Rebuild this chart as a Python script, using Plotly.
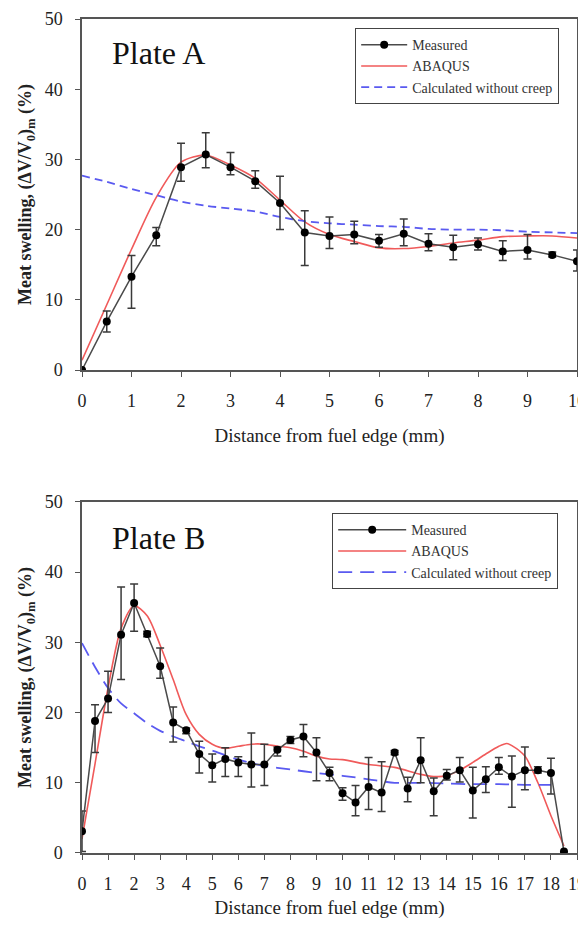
import plotly.graph_objects as go

# ---------------- Plate A data ----------------
xa_meas = [0, 0.5, 1, 1.5, 2, 2.5, 3, 3.5, 4, 4.5, 5, 5.5, 6, 6.5, 7, 7.5, 8, 8.5, 9, 9.5, 10]
ya_meas = [0, 6.9, 13.3, 19.2, 28.9, 30.7, 28.9, 26.9, 23.8, 19.6, 19.1, 19.3, 18.4, 19.4, 18.0, 17.5, 17.9, 16.9, 17.1, 16.4, 15.5]
ya_hi = [0, 8.4, 16.3, 20.3, 32.3, 33.8, 31.0, 28.4, 27.6, 22.7, 21.8, 21.2, 19.3, 21.5, 19.4, 19.2, 18.8, 18.4, 19.3, 16.8, 17.1]
ya_lo = [0, 5.4, 8.8, 17.7, 26.9, 28.8, 27.8, 25.9, 20.0, 14.9, 17.3, 18.0, 17.5, 17.7, 17.0, 15.7, 17.1, 15.6, 15.8, 16.1, 14.1]

xa_abq = [0, 0.5, 1, 1.5, 2, 2.5, 3, 3.5, 4, 4.5, 5, 5.5, 6, 6.5, 7, 7.5, 8, 8.5, 9, 9.5, 10]
ya_abq = [1.4, 9.3, 17.2, 24.6, 29.6, 30.6, 29.2, 27.3, 24.2, 21.1, 19.3, 18.3, 17.4, 17.3, 17.6, 18.1, 18.5, 19.0, 19.1, 19.1, 18.8]

xa_nc = [0, 0.5, 1, 1.5, 2, 2.5, 3, 3.5, 4, 4.5, 5, 5.5, 6, 6.5, 7, 7.5, 8, 8.5, 9, 9.5, 10]
ya_nc = [27.7, 26.8, 25.8, 24.9, 24.0, 23.4, 23.0, 22.6, 21.8, 21.2, 20.9, 20.7, 20.5, 20.4, 20.1, 20.0, 20.0, 19.9, 19.7, 19.6, 19.5]

# ---------------- Plate B data ----------------
xb_meas = [0, 0.5, 1, 1.5, 2, 2.5, 3, 3.5, 4, 4.5, 5, 5.5, 6, 6.5, 7, 7.5, 8, 8.5, 9, 9.5,
           10, 10.5, 11, 11.5, 12, 12.5, 13, 13.5, 14, 14.5, 15, 15.5, 16, 16.5, 17, 17.5, 18, 18.5]
yb_meas = [3.1, 18.8, 22.0, 31.1, 35.6, 31.2, 26.6, 18.6, 17.5, 14.1, 12.5, 13.4, 12.9, 12.6, 12.6, 14.7, 16.1, 16.6, 14.3, 11.4,
           8.5, 7.2, 9.4, 8.6, 14.3, 9.2, 13.2, 8.8, 11.0, 11.8, 8.9, 10.5, 12.2, 10.9, 11.8, 11.8, 11.4, 0.2]
yb_hi = [6.0, 21.1, 25.9, 37.9, 38.3, 31.6, 29.2, 20.8, 17.8, 15.9, 14.1, 15.0, 13.7, 17.1, 15.5, 15.1, 16.6, 18.3, 16.4, 12.2,
         9.3, 9.6, 13.6, 13.0, 14.6, 10.8, 16.4, 10.7, 11.9, 13.6, 12.2, 12.3, 13.6, 13.8, 15.1, 12.3, 13.5, 0.2]
yb_lo = [0.2, 14.3, 20.0, 24.7, 31.6, 30.8, 24.9, 15.8, 17.0, 11.4, 10.1, 10.9, 10.9, 9.4, 9.6, 13.8, 15.6, 13.7, 10.3, 10.3,
         7.5, 5.3, 6.2, 5.9, 14.0, 7.3, 10.0, 5.3, 10.4, 10.1, 5.0, 8.6, 11.2, 6.5, 9.0, 11.4, 8.4, 0.2]

xb_abq = [0, 0.5, 1, 1.5, 2, 2.5, 3, 3.5, 4, 4.5, 5, 5.5, 6, 6.5, 7, 7.5, 8, 8.5, 9, 9.5,
          10, 11, 12, 13, 13.5, 14, 14.5, 15, 15.5, 16, 16.3, 16.5, 17, 17.5, 18, 18.5]
yb_abq = [2.0, 12.7, 23.5, 32.0, 35.2, 33.8, 29.6, 24.7, 19.7, 16.9, 15.5, 14.9, 15.2, 15.5, 15.5, 15.2, 15.0, 14.5, 13.8, 13.4,
          13.3, 12.6, 12.2, 11.2, 10.9, 11.0, 11.8, 12.9, 14.1, 15.2, 15.6, 15.3, 13.8, 10.0, 5.3, 1.0]

xb_nc = [0, 0.5, 1, 1.5, 2, 2.5, 3, 3.5, 4, 4.5, 5, 6, 7, 8, 9, 10, 11, 12, 13, 14, 15, 16, 17, 18]
yb_nc = [29.9, 26.5, 23.5, 21.3, 19.9, 18.5, 17.4, 16.6, 15.9, 15.2, 14.6, 13.3, 12.4, 11.9, 11.4, 11.0, 10.5, 10.0, 10.0, 9.9, 9.8, 9.8, 9.7, 9.7]

series_names = ["Measured", "ABAQUS", "Calculated without creep"]
panel_labels = ["Plate A", "Plate B"]
x_title = "Distance from fuel edge (mm)"
y_title = "<b>Meat swelling, (ΔV/V<sub>0</sub>)<sub>m</sub> (%)</b>"

FONT = "Liberation Serif, Times New Roman, serif"
MEAS_LINE = "#4a4a4a"
RED = "#f05a5a"
BLUE = "#5a5af0"
TXT = "#222222"


def diffs(vals, hi, lo):
    return [h - v for v, h in zip(vals, hi)], [v - l for v, l in zip(vals, lo)]


fig = go.Figure()

for i, (xm, ym, hi, lo, xr, yr, xn, yn, dash) in enumerate([
    (xa_meas, ya_meas, ya_hi, ya_lo, xa_abq, ya_abq, xa_nc, ya_nc, "8px,5px"),
    (xb_meas, yb_meas, yb_hi, yb_lo, xb_abq, yb_abq, xb_nc, yb_nc, "14px,8px"),
]):
    xa = "x" if i == 0 else "x2"
    ya = "y" if i == 0 else "y2"
    leg = "legend" if i == 0 else "legend2"
    plus, minus = diffs(ym, hi, lo)
    fig.add_trace(go.Scatter(
        x=xr, y=yr, mode="lines", name=series_names[1], xaxis=xa, yaxis=ya, legend=leg,
        line=dict(color=RED, width=1.6, shape="spline", smoothing=0.8), legendrank=2))
    fig.add_trace(go.Scatter(
        x=xn, y=yn, mode="lines", name=series_names[2], xaxis=xa, yaxis=ya, legend=leg,
        line=dict(color=BLUE, width=1.8, dash=dash, shape="spline", smoothing=0.8), legendrank=3))
    fig.add_trace(go.Scatter(
        x=xm, y=ym, mode="lines+markers", name=series_names[0], xaxis=xa, yaxis=ya, legend=leg,
        line=dict(color=MEAS_LINE, width=1.5),
        marker=dict(color="black", size=8, symbol="circle"),
        error_y=dict(type="data", array=plus, arrayminus=minus, symmetric=False,
                     color="#3a3a3a", thickness=1.5, width=4),
        legendrank=1))

axis_common = dict(
    showline=True, linecolor="#555555", linewidth=1.5, mirror=True,
    ticks="outside", ticklen=5, tickwidth=1.2, tickcolor="#555555",
    showgrid=False, zeroline=False, automargin=False,
    tickfont=dict(family=FONT, size=18, color=TXT),
    ticklabelstandoff=9, ticklabeloverflow="allow",
)

# plot area spans page y 19..853 (834 px)
DOM_TOP = [0.5791, 1.0]
DOM_BOT = [0.0, 0.4209]
xt_font = dict(family=FONT, size=19, color=TXT)
yt_font = dict(family=FONT, size=18, color=TXT)

# page body has an 8px margin: figure is shrunk/offset so plot areas land where the reference has them
fig.update_layout(
    width=578, height=911,
    margin=dict(l=74, r=9, t=11, b=66, autoexpand=False),
    paper_bgcolor="white", plot_bgcolor="white",
    font=dict(family=FONT, color=TXT),
    showlegend=True,
    xaxis=dict(axis_common, domain=[0, 1], anchor="y", range=[0, 10], dtick=1, tick0=0,
               title=dict(text=x_title, font=xt_font, standoff=18)),
    yaxis=dict(axis_common, domain=DOM_TOP, anchor="x", range=[0, 50], dtick=10,
               title=dict(text=y_title, font=yt_font, standoff=8)),
    xaxis2=dict(axis_common, domain=[0, 1], anchor="y2", range=[0, 19], dtick=1, tick0=0,
                title=dict(text=x_title, font=xt_font, standoff=18)),
    yaxis2=dict(axis_common, domain=DOM_BOT, anchor="x2", range=[0, 50], dtick=10,
                title=dict(text=y_title, font=yt_font, standoff=8)),
    legend=dict(x=0.9636, y=0.9892, xanchor="right", yanchor="top",
                bordercolor="#444444", borderwidth=1.2, bgcolor="white",
                font=dict(family=FONT, size=14, color="#333333"), traceorder="normal",
                itemwidth=46, tracegroupgap=0),
    legend2=dict(x=0.9616, y=0.4077, xanchor="right", yanchor="top",
                 bordercolor="#444444", borderwidth=1.2, bgcolor="white",
                 font=dict(family=FONT, size=14, color="#333333"), traceorder="normal",
                 itemwidth=68, tracegroupgap=0),
    annotations=[
        dict(text=panel_labels[0], xref="paper", yref="paper", x=0.0566, y=0.9592,
             xanchor="left", yanchor="middle", showarrow=False,
             font=dict(family=FONT, size=32, color="#111111")),
        dict(text=panel_labels[1], xref="paper", yref="paper", x=0.0566, y=0.3777,
             xanchor="left", yanchor="middle", showarrow=False,
             font=dict(family=FONT, size=32, color="#111111")),
    ],
)

fig.write_html("out.html")
